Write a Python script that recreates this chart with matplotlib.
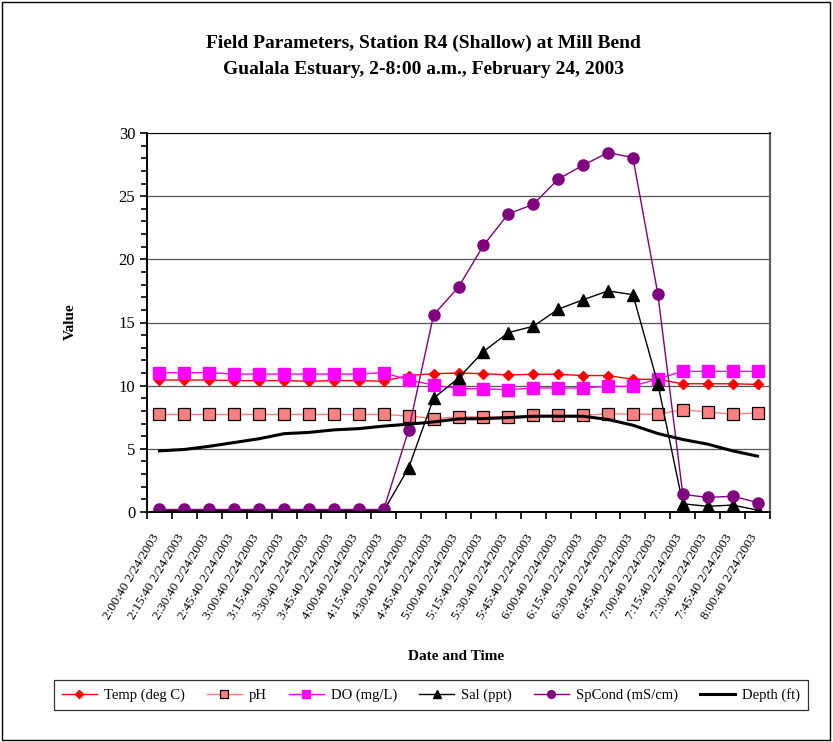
import matplotlib
matplotlib.use("Agg")
import matplotlib.pyplot as plt
from matplotlib.patches import Rectangle
from matplotlib.ticker import MultipleLocator, FixedLocator
from matplotlib.transforms import ScaledTranslation

plt.rcParams['font.family'] = ['Liberation Serif', 'DejaVu Serif']

# sample times, every 15 minutes
times = ["2:00:40", "2:15:40", "2:30:40", "2:45:40", "3:00:40", "3:15:40",
         "3:30:40", "3:45:40", "4:00:40", "4:15:40", "4:30:40", "4:45:40",
         "5:00:40", "5:15:40", "5:30:40", "5:45:40", "6:00:40", "6:15:40",
         "6:30:40", "6:45:40", "7:00:40", "7:15:40", "7:30:40", "7:45:40",
         "8:00:40"]
labels = [t + " 2/24/2003" for t in times]

temp = [10.45, 10.45, 10.45, 10.4, 10.4, 10.4, 10.35, 10.4, 10.4, 10.35,
        10.8, 10.95, 11.0, 10.95, 10.85, 10.9, 10.9, 10.8, 10.8, 10.5,
        10.5, 10.15, 10.15, 10.15, 10.1]
ph = [7.72, 7.72, 7.72, 7.72, 7.72, 7.72, 7.72, 7.72, 7.72, 7.72,
      7.6, 7.4, 7.53, 7.53, 7.53, 7.65, 7.65, 7.65, 7.78, 7.74,
      7.74, 8.1, 7.92, 7.74, 7.85]
do = [11.03, 11.03, 11.03, 10.92, 10.92, 10.92, 10.92, 10.92, 10.92, 11.03,
      10.45, 10.05, 9.76, 9.76, 9.68, 9.82, 9.82, 9.82, 9.95, 9.95,
      10.55, 11.13, 11.13, 11.13, 11.13]
sal = [0.1, 0.1, 0.1, 0.1, 0.1, 0.1, 0.1, 0.1, 0.1, 0.1,
       3.5, 9.0, 10.6, 12.7, 14.2, 14.7, 16.05, 16.8, 17.5, 17.2,
       10.15, 0.65, 0.45, 0.55, 0.15]
spcond = [0.2, 0.2, 0.2, 0.2, 0.2, 0.2, 0.2, 0.2, 0.2, 0.2,
          6.5, 15.6, 17.8, 21.1, 23.6, 24.35, 26.35, 27.45, 28.45, 28.05,
          17.25, 1.4, 1.15, 1.25, 0.75]
depth = [4.84, 4.95, 5.2, 5.5, 5.8, 6.2, 6.3, 6.5, 6.6, 6.8,
         6.95, 7.13, 7.37, 7.39, 7.47, 7.58, 7.58, 7.58, 7.32, 6.87,
         6.21, 5.74, 5.37, 4.84, 4.42]

x = list(range(len(times)))

fig = plt.figure(figsize=(8.33, 7.42), dpi=100)
ax = fig.add_axes([147 / 833, 1 - 512 / 742, (770 - 147) / 833, (512 - 133) / 742])

# grid behind everything
ax.set_axisbelow(True)
ax.yaxis.grid(True, which='major', color='#555555', lw=0.9)

ax.plot(x, temp, color='#FF0000', lw=1, marker='D', ms=5.5,
        mfc='#FF0000', mec='#FF0000', label='Temp (deg C)')
ax.plot(x, ph, color='#FF8080', lw=1, marker='s', ms=8,
        mfc='#FF8080', mec='black', mew=0.9, label='pH')
ax.plot(x, do, color='#FF00FF', lw=1, marker='s', ms=8,
        mfc='#FF00FF', mec='#FF00FF', label='DO (mg/L)')
ax.plot(x, sal, color='black', lw=1, marker='^', ms=8,
        mfc='black', mec='black', label='Sal (ppt)')
ax.plot(x, spcond, color='#800080', lw=1, marker='o', ms=8,
        mfc='#800080', mec='#800080', label='SpCond (mS/cm)')
ax.plot(x, depth, color='black', lw=2.2, label='Depth (ft)')

ax.set_xlim(-0.5, len(times) - 0.5)
ax.set_ylim(0, 30)
ax.yaxis.set_major_locator(MultipleLocator(5))
ax.yaxis.set_minor_locator(MultipleLocator(1))
ax.tick_params(axis='y', which='major', direction='out', length=5, width=1.2, labelsize=12)
ax.tick_params(axis='y', which='minor', direction='out', length=4, width=1.2)

ax.set_xticks(x)
ax.set_xticklabels(labels, rotation=59, ha='right', va='top',
                   rotation_mode='anchor', fontsize=9.5)
ax.tick_params(axis='x', which='major', length=0, pad=6)
# nudge the slanted labels down/left like the original
shift = ScaledTranslation(-8 / 100, -12 / 100, fig.dpi_scale_trans)
for lab in ax.get_xticklabels():
    lab.set_transform(lab.get_transform() + shift)
ax.xaxis.set_minor_locator(FixedLocator([i - 0.5 for i in range(len(times) + 1)]))
ax.tick_params(axis='x', which='minor', direction='out', length=5, width=1.2)

ax.spines['top'].set_color('black')
ax.spines['right'].set_color('#606060')
ax.spines['right'].set_linewidth(1.6)
ax.spines['left'].set_linewidth(1.4)
ax.spines['bottom'].set_linewidth(1.4)

fig.text(0.508, 1 - 43 / 742, "Field Parameters, Station R4 (Shallow) at Mill Bend",
         ha='center', va='center', fontsize=14, fontweight='bold')
fig.text(0.508, 1 - 70 / 742, "Gualala Estuary, 2-8:00 a.m., February 24, 2003",
         ha='center', va='center', fontsize=14, fontweight='bold')
fig.text(70 / 833, 1 - 322 / 742, "Value", rotation=90, ha='center', va='center',
         fontsize=11, fontweight='bold')
fig.text(456 / 833, 1 - 656 / 742, "Date and Time", ha='center', va='center',
         fontsize=11, fontweight='bold')

leg = fig.legend(loc='center', ncol=6,
                 bbox_to_anchor=(431 / 833, 1 - 695 / 742),
                 frameon=True, fancybox=False, edgecolor='black',
                 fontsize=10.5, markerscale=0.7, handlelength=2.4,
                 handletextpad=0.5, columnspacing=1.5,
                 borderpad=0.55, borderaxespad=0)
leg.get_frame().set_linewidth(0.9)

# outer chart border
fig.patches.append(Rectangle((0.002, 0.003), 0.994, 0.994, transform=fig.transFigure,
                             fill=False, edgecolor='black', lw=1))

fig.savefig("out.png", dpi=100)
